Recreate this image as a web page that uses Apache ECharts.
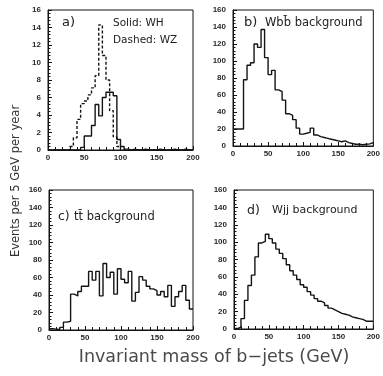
<!DOCTYPE html>
<html>
<head>
<meta charset="utf-8">
<script src="https://cdn.jsdelivr.net/npm/echarts@6/dist/echarts.min.js"></script>
<style>
html,body{margin:0;padding:0;background:#fff;}
#chart{width:383px;height:376px;}
</style>
</head>
<body>
<div id="chart"></div>
<script>
// Bin width (GeV) and x range
const BIN = 5;
const xTickLabels = [0, 50, 100, 150, 200];
const yTicksA = [0, 2, 4, 6, 8, 10, 12, 14, 16];
const yTicksBCD = [0, 20, 40, 60, 80, 100, 120, 140, 160];

// a) WH (solid) and WZ (dashed), events per 5 GeV bin, 0-200 GeV
const whSolid = [0,0,0,0,0,0,0,0,0,0.3, 1.6,1.6,2.8,5.2,3.9,6.0,6.6,6.6,6.2,1.2,
                 0.4,0.1,0,0.1,0,0,0.1,0,0,0, 0.1,0,0,0,0.1,0,0,0.1,0,0];
const wzDashed = [0,0,0,0,0,0,0.4,1.4,3.5,5.3, 5.6,6.3,7.1,8.5,14.3,10.8,8.0,4.5,1.5,0.4,
                  0,0,0,0,0,0,0,0,0,0, 0,0,0,0,0,0,0,0,0,0];
// b) Wbb background
const wbbBkg = [20,20,20,78,95,98,120,116,137,104, 84,89,66,64,54,38,36,31,21,14,
                15,16,21,13,11,10,9,8,7,6, 5,6,4,3,2,2,1.5,2,2.5,4];
// c) tt background
const ttBkg = [1.5,1,0.5,3,9,10,41,39,44,50, 50,67,57,67,39,76,60,66,41,70,
               58,54,67,33,43,61,57,50,47,45, 40,44,38,51,27,38,44,51,34,24];
// d) Wjj background
const wjjBkg = [0.5,2,12,33,50,62,83,99,101,109, 104,99,92,87,81,74,67,62,57,51,
                48,43,39,35,32,30,27,24,22,20, 18,17,16,14,13,12,11,9,9,9];

function toSteps(vals){
  const pts = vals.map((v,i)=>[i*BIN, v]);
  pts.push([vals.length*BIN, vals[vals.length-1]]);
  return pts;
}

const INK = '#141414';
const grids = [
  {left:48, top:10, width:145, height:140},
  {left:233, top:10, width:144, height:136},
  {left:49, top:190, width:144, height:140},
  {left:234, top:190, width:143, height:139}
];

const labelFont = {fontFamily:'Liberation Sans', fontSize:8, fontWeight:'bold', color:'#2a2a2a'};

const xAxes = grids.map((g,i)=>({
  type:'value', gridIndex:i, min:xTickLabels[0], max:xTickLabels[xTickLabels.length-1], interval:50,
  axisLine:{show:true, lineStyle:{color:INK, width:1}},
  axisTick:{show:true, inside:true, length:4, lineStyle:{color:INK, width:1}},
  minorTick:{show:true, splitNumber:5, length:3, lineStyle:{color:INK, width:1}},
  splitLine:{show:false},
  axisLabel:Object.assign({margin:4, showMaxLabel:true, showMinLabel:true}, labelFont)
}));

const yAxes = grids.map((g,i)=>{
  const t = i===0 ? yTicksA : yTicksBCD;
  return {
    type:'value', gridIndex:i, min:t[0], max:t[t.length-1], interval:t[1]-t[0],
    axisLine:{show:true, lineStyle:{color:INK, width:1}},
    axisTick:{show:true, inside:true, length:4, lineStyle:{color:INK, width:1}},
    minorTick:{show:true, splitNumber:5, length:2.5, lineStyle:{color:INK, width:1}},
    splitLine:{show:false},
    axisLabel:Object.assign({margin:7}, labelFont)
  };
});

function hist(name, vals, gi, dashed){
  return {
    name:name, type:'line', step:'end', xAxisIndex:gi, yAxisIndex:gi,
    data:toSteps(vals), symbol:'none', showSymbol:false, animation:false, clip:true,
    lineStyle:{color:INK, width:1.4, type: dashed ? [3,2] : 'solid'}
  };
}

const annFont = 'DejaVu Sans';
const chart = echarts.init(document.getElementById('chart'), null, {renderer:'canvas'});
chart.setOption({
  backgroundColor:'#ffffff',
  animation:false,
  grid: grids.map(g=>Object.assign({show:true, borderColor:INK, borderWidth:1, backgroundColor:'transparent'}, g)),
  xAxis:xAxes,
  yAxis:yAxes,
  series:[
    hist('WZ', wzDashed, 0, true),
    hist('WH', whSolid, 0, false),
    hist('Wbb', wbbBkg, 1, false),
    hist('tt', ttBkg, 2, false),
    hist('Wjj', wjjBkg, 3, false)
  ],
  graphic:[
    {type:'text', left:62, top:16, style:{text:'a)', font:'13px '+annFont, fill:'#222'}},
    {type:'text', left:113, top:18, style:{text:'Solid: WH', font:'10.5px '+annFont, fill:'#222'}},
    {type:'text', left:113, top:35, style:{text:'Dashed: WZ', font:'10.5px '+annFont, fill:'#222'}},
    {type:'text', left:244, top:16, style:{text:'b)', font:'13px '+annFont, fill:'#222'}},
    {type:'text', left:265, top:17, style:{text:'Wbb\u0304 background', font:'11.5px '+annFont, fill:'#222'}},
    {type:'text', left:58, top:210, style:{text:'c)', font:'12.5px '+annFont, fill:'#222'}},
    {type:'text', left:74, top:211, style:{text:'tt\u0304 background', font:'11.5px '+annFont, fill:'#222'}},
    {type:'text', left:247, top:204, style:{text:'d)', font:'12.5px '+annFont, fill:'#222'}},
    {type:'text', left:272, top:205, style:{text:'Wjj background', font:'11px '+annFont, fill:'#222'}},
    {type:'text', x:16, y:181, rotation:Math.PI/2,
      style:{text:'Events per 5 GeV per year', font:'11.5px '+annFont, fill:'#333', textAlign:'center', textVerticalAlign:'middle'}},
    {type:'text', x:214, y:357,
      style:{text:'Invariant mass of b\u2212jets (GeV)', font:'17.5px '+annFont, fill:'#4a4a4a', textAlign:'center', textVerticalAlign:'middle'}}
  ]
});
</script>
</body>
</html>
